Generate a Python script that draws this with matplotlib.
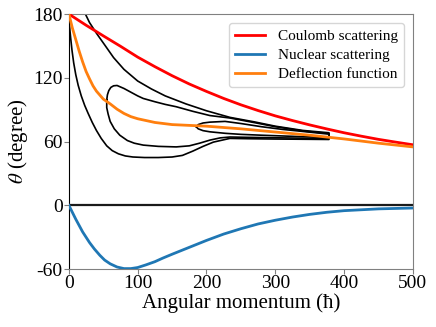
import matplotlib
matplotlib.use("Agg")
import matplotlib.pyplot as plt

# angular momentum (hbar) vs scattering angle (degree)
coulomb_L = [0, 25, 50, 75, 100, 125, 150, 175, 200, 225, 250, 275, 300, 325, 350, 375, 400, 425, 450, 475, 500]
coulomb_theta = [180, 169.5, 159.5, 149.7, 139.5, 130.5, 122.0, 114.2, 107.2, 100.6, 94.6, 89.2, 84.2,
                 79.8, 75.7, 71.9, 68.3, 65.1, 62.1, 59.5, 57.0]

nuclear_L = [0, 5, 10, 15, 20, 25, 30, 37, 45, 52, 60, 70, 80, 90, 100, 112, 125, 137, 150, 175, 200,
             225, 250, 275, 300, 325, 350, 375, 400, 450, 500]
nuclear_theta = [0, -6.5, -13, -19, -25, -30, -35, -41, -47, -51.5, -55, -58, -59.5, -59.5, -58.5, -56, -53,
                 -49.5, -46, -39.5, -33, -27, -22, -17.5, -14, -11, -8.5, -6.5, -5, -3.3, -2.5]

deflect_L = [0, 5, 10, 15, 20, 25, 30, 35, 40, 50, 60, 70, 80, 90, 100, 125, 150, 200, 250, 300, 350, 400, 450, 500]
deflect_theta = [180, 167, 156, 145, 135, 126, 119, 112.5, 107.5, 100, 95.5, 90.5, 86.5, 83.5, 81.5, 78, 76,
                 74.5, 72, 69, 66, 62.5, 58.5, 55]

# contour lines
outer_L = [0, 1, 2.5, 4.5, 7, 10, 13.5, 18, 23, 28, 34, 40, 47, 55, 63, 72, 82, 93, 110, 130, 150, 165, 180,
           195, 210, 234, 260, 300, 340, 378,
           378, 340, 300, 270, 234, 200, 170, 140, 120, 100, 80, 65, 52, 40, 30, 24]
outer_theta = [176, 168, 158, 146, 134, 123, 113, 103, 94, 86.5, 78, 70.5, 63, 56, 51.5, 48.5, 46.5, 45.5, 45,
               45, 45.5, 47, 51, 55.5, 59.5, 63, 62.7, 62.4, 62.2, 62.0,
               68.3, 70.5, 74.5, 78.5, 82.8, 89, 95.5, 103, 109.5, 117, 128, 139, 151, 162, 172, 180]

middle_L = [55, 56, 58, 61, 65, 70, 80, 90, 100, 108, 125, 140, 156, 180, 205, 234, 270, 300, 340, 378,
            378, 340, 300, 260, 234, 220, 205, 190, 175, 156, 130, 108, 95, 85, 74, 66, 60, 57, 55, 55]
middle_theta = [99, 104, 108, 111, 112.5, 112.8, 110, 106.5, 103, 100.6, 97.5, 95, 92.8, 88.5, 84.5, 82.2,
                77.8, 74, 70, 67.6,
                62.8, 63.2, 63.6, 64, 64.3, 63.5, 61.4, 58.5, 56, 55, 55.5, 56.7, 58.5, 61, 66, 72, 79, 86, 92, 99]

inner_L = [185, 188, 195, 205, 227, 250, 280, 310, 345, 378,
           378, 345, 310, 280, 250, 227, 205, 195, 188, 185]
inner_theta = [74, 76, 77.5, 78.3, 79, 77, 74, 71.5, 69.2, 67.0,
               63.8, 64.5, 65.3, 66, 66.8, 67.8, 69.2, 70.3, 72, 74]

plt.rcParams.update({
    "font.family": ["Liberation Serif", "DejaVu Serif"],
    "mathtext.fontset": "stix",
    "axes.unicode_minus": False,
})

fig = plt.figure(figsize=(4.36, 3.27), dpi=100)
ax = fig.add_axes([0.158, 0.177, 0.789, 0.78])

ax.axhline(0, color="#1a1a1a", linewidth=1.6, zorder=1)
for xs, ys in [(outer_L, outer_theta), (middle_L, middle_theta), (inner_L, inner_theta)]:
    ax.plot(xs, ys, color="black", linewidth=1.2, zorder=2)

ax.plot(coulomb_L, coulomb_theta, color="red", linewidth=2, label="Coulomb scattering", zorder=3)
ax.plot(nuclear_L, nuclear_theta, color="#1f77b4", linewidth=2, label="Nuclear scattering", zorder=3)
ax.plot(deflect_L, deflect_theta, color="#ff7f0e", linewidth=2, label="Deflection function", zorder=3)

ax.set_xlim(0, 500)
ax.set_ylim(-60, 180)
ax.set_xticks([0, 100, 200, 300, 400, 500])
ax.set_yticks([-60, 0, 60, 120, 180])
ax.tick_params(labelsize=14, length=3.5, color="#808080", pad=1)
for side in ("top", "right", "bottom"):
    ax.spines[side].set_color("#808080")
ax.spines["left"].set_color("black")

ax.set_xlabel("Angular momentum (ħ)", fontsize=15, labelpad=1)
ax.set_ylabel(r"$\theta$ (degree)", fontsize=15, labelpad=2)
ax.legend(loc="upper right", fontsize=11, handlelength=2.0, borderaxespad=0.6, labelspacing=0.35)

fig.savefig("out.png", dpi=100)
